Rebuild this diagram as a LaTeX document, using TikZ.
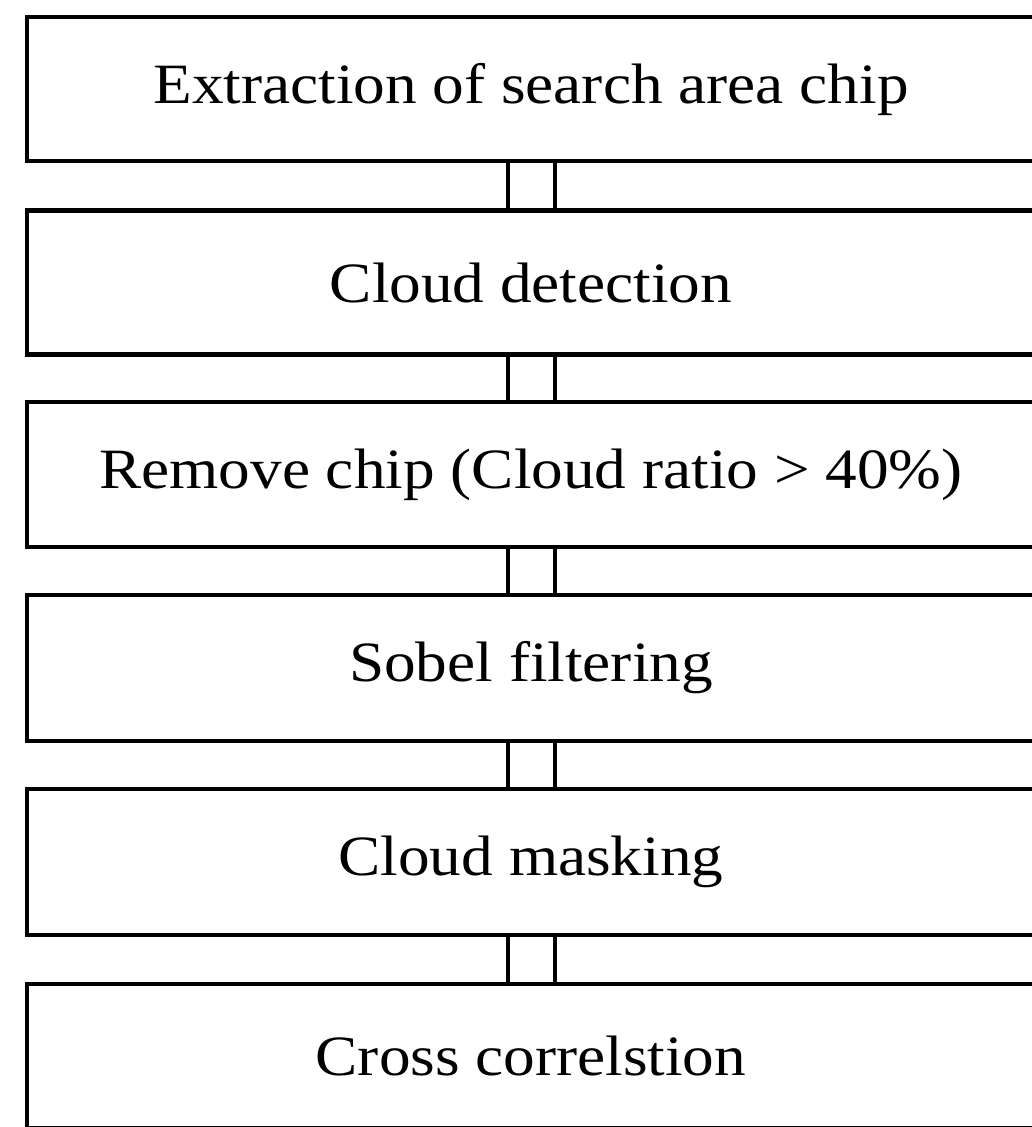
\documentclass[tikz,border=0pt]{standalone}
\usepackage{fontspec}
\setmainfont{Liberation Serif}[FakeStretch=1.11]
\begin{document}
\begin{tikzpicture}[x=1pt,y=-1pt,
  stepbox/.style={draw, line width=4.5pt, minimum width=1008pt, inner sep=0pt, outer sep=0pt,
    font=\fontsize{57}{60}\selectfont},
  conn/.style={line width=4.5pt}]
\useasboundingbox (0,0) rectangle (1032,1127);
\clip (0,0) rectangle (1032,1127);
\node[stepbox, minimum height=144pt] (b1) at (531,89) {Extraction of search area chip};
\node[stepbox, minimum height=144pt] (b2) at (531,282.5) {Cloud detection};
\node[stepbox, minimum height=145pt] (b3) at (531,474.5) {Remove chip (Cloud ratio > 40\%)};
\node[stepbox, minimum height=146pt] (b4) at (531,668) {Sobel filtering};
\node[stepbox, minimum height=146pt] (b5) at (531,862) {Cloud masking};
\node[stepbox, minimum height=144pt] (b6) at (531,1056) {Cross correlstion};
\foreach \a/\b in {b1/b2,b2/b3,b3/b4,b4/b5,b5/b6}{
  \draw[conn] ([xshift=-23pt]\a.south) -- ([xshift=-23pt]\b.north);
  \draw[conn] ([xshift=24pt]\a.south) -- ([xshift=24pt]\b.north);
}
\end{tikzpicture}
\end{document}
